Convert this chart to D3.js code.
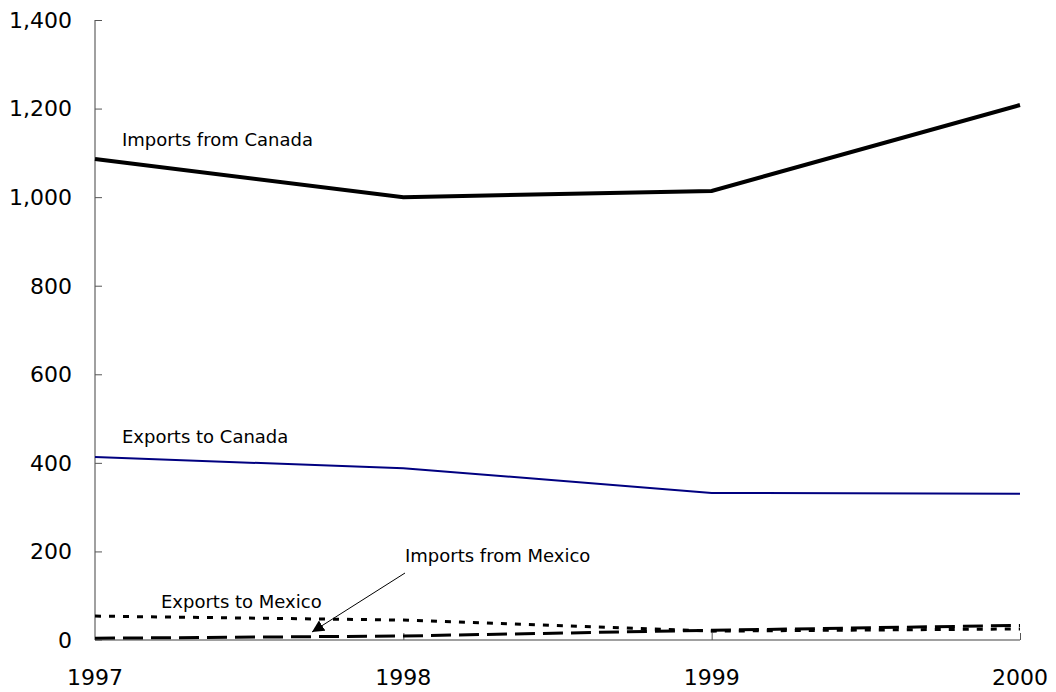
<!DOCTYPE html>
<html>
<head>
<meta charset="utf-8">
<script src="https://cdn.jsdelivr.net/npm/d3@7"></script>
<style>
  html, body { margin: 0; padding: 0; background: #fff; }
  text { font-family: "DejaVu Sans", "Lato", sans-serif; fill: #000; }
</style>
</head>
<body>
<div id="chart"></div>
<script>
// ── Data ──────────────────────────────────────────────────────────────────────
const years = [1997, 1998, 1999, 2000];
const importsFromCanada = [1086, 1000, 1014, 1208];
const exportsToCanada = [413, 388, 332, 330];
const exportsToMexico = [54, 45, 20, 25];
const importsFromMexico = [4, 9, 22, 33];
const yTicks = [0, 200, 400, 600, 800, 1000, 1200, 1400];

const series = [
  { name: 'Imports from Canada', values: importsFromCanada, color: '#000', width: 4, dash: null },
  { name: 'Exports to Canada', values: exportsToCanada, color: '#000080', width: 2, dash: null },
  { name: 'Exports to Mexico', values: exportsToMexico, color: '#000', width: 3, dash: '6,8' },
  { name: 'Imports from Mexico', values: importsFromMexico, color: '#000', width: 3, dash: '20,8' }
];

// ── SVG setup ─────────────────────────────────────────────────────────────────
const W = 1056, H = 692;
const margin = { top: 20, right: 36, bottom: 52, left: 95 };

const svg = d3.select('#chart')
  .append('svg')
  .attr('width', W)
  .attr('height', H);

const x = d3.scaleLinear()
  .domain([1997, 2000])
  .range([margin.left, W - margin.right]);

const y = d3.scaleLinear()
  .domain([0, 1400])
  .range([H - margin.bottom, margin.top]);

const defs = svg.append('defs');
defs.append('marker')
  .attr('id', 'arrow')
  .attr('viewBox', '0 -5 10 10')
  .attr('refX', 10)
  .attr('refY', 0)
  .attr('markerWidth', 12)
  .attr('markerHeight', 12)
  .attr('markerUnits', 'userSpaceOnUse')
  .attr('orient', 'auto')
  .append('path')
  .attr('d', 'M0,-5L10,0L0,5Z')
  .attr('fill', '#000');

// ── Axes ──────────────────────────────────────────────────────────────────────
const axisColor = '#808080';

const yAxis = svg.append('g')
  .attr('transform', `translate(${margin.left},0)`)
  .call(d3.axisRight(y).tickValues(yTicks).tickSize(7).tickFormat(''));
yAxis.select('.domain').attr('d', `M0,${y(1400)}V${y(0)}`).attr('stroke', axisColor).attr('stroke-width', 1.5);
yAxis.selectAll('.tick line').attr('stroke', '#555');

svg.append('g')
  .selectAll('text')
  .data(yTicks)
  .join('text')
  .attr('x', 72)
  .attr('y', d => y(d))
  .attr('dy', '0.36em')
  .attr('text-anchor', 'end')
  .attr('font-size', 22)
  .text(d => d3.format(',')(d));

const xAxis = svg.append('g')
  .attr('transform', `translate(0,${y(0)})`)
  .call(d3.axisTop(x).tickValues(years.slice(1)).tickSize(7).tickFormat(''));
xAxis.select('.domain').attr('d', `M${x(1997)},0H${x(2000)}`).attr('stroke', axisColor).attr('stroke-width', 1.5);
xAxis.selectAll('.tick line').attr('stroke', '#555');

svg.append('g')
  .selectAll('text')
  .data(years)
  .join('text')
  .attr('x', d => x(d))
  .attr('y', 685)
  .attr('text-anchor', 'middle')
  .attr('font-size', 22)
  .text(d => d);

// ── Lines ─────────────────────────────────────────────────────────────────────
const line = d3.line()
  .x((d, i) => x(years[i]))
  .y(d => y(d));

svg.append('g')
  .selectAll('path')
  .data(series)
  .join('path')
  .attr('fill', 'none')
  .attr('stroke', d => d.color)
  .attr('stroke-width', d => d.width)
  .attr('stroke-dasharray', d => d.dash)
  .attr('d', d => line(d.values));

// ── Labels ────────────────────────────────────────────────────────────────────
const labels = [
  { text: 'Imports from Canada', x: 122, y: 146 },
  { text: 'Exports to Canada', x: 122, y: 443 },
  { text: 'Exports to Mexico', x: 161, y: 608 },
  { text: 'Imports from Mexico', x: 405, y: 562 }
];

svg.append('g')
  .selectAll('text')
  .data(labels)
  .join('text')
  .attr('x', d => d.x)
  .attr('y', d => d.y)
  .attr('font-size', 18)
  .text(d => d.text);

// arrow from "Imports from Mexico" down to its line
svg.append('line')
  .attr('x1', 405).attr('y1', 573)
  .attr('x2', 312).attr('y2', 632)
  .attr('stroke', '#000')
  .attr('stroke-width', 1)
  .attr('marker-end', 'url(#arrow)');
</script>
</body>
</html>
